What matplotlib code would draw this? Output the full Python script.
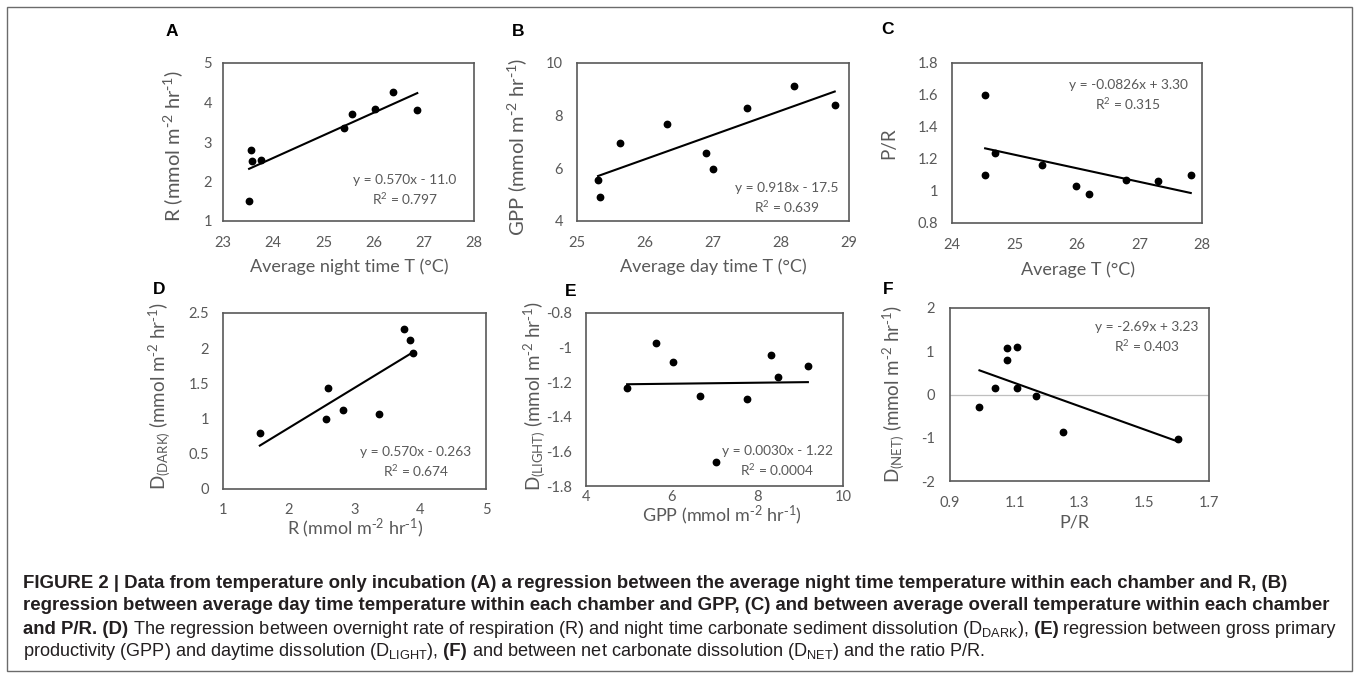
import numpy as np
import matplotlib
matplotlib.use("Agg")
import matplotlib.pyplot as plt
from matplotlib.ticker import FuncFormatter
from matplotlib.patches import Rectangle

W, H = 1357, 679

# ---- values ----
a_x = [23.56, 23.58, 23.76, 23.52, 25.42, 25.56, 26.03, 26.38, 26.87]
a_y = [2.79, 2.53, 2.54, 1.51, 3.35, 3.70, 3.84, 4.27, 3.80]

b_x = [25.31, 25.34, 25.63, 26.33, 26.89, 27.00, 27.50, 28.19, 28.79]
b_y = [5.56, 4.90, 6.96, 7.70, 6.59, 5.99, 8.28, 9.14, 8.42]

c_x = [24.53, 24.53, 24.68, 25.44, 25.99, 26.19, 26.78, 27.30, 27.82]
c_y = [1.60, 1.10, 1.24, 1.16, 1.03, 0.98, 1.07, 1.06, 1.10]

d_x = [1.56, 2.56, 2.60, 2.82, 3.38, 3.75, 3.84, 3.89]
d_y = [0.80, 0.99, 1.44, 1.12, 1.06, 2.27, 2.11, 1.93]

e_x = [4.96, 5.63, 6.03, 6.66, 7.03, 7.75, 8.32, 8.48, 9.18]
e_y = [-1.231, -0.976, -1.082, -1.282, -1.663, -1.297, -1.044, -1.171, -1.104]

f_x = [0.991, 1.039, 1.077, 1.076, 1.108, 1.106, 1.165, 1.249, 1.604]
f_y = [-0.30, 0.14, 0.80, 1.07, 1.09, 0.14, -0.03, -0.87, -1.03]

a_xticks = [23, 24, 25, 26, 27, 28]
a_yticks = [1, 2, 3, 4, 5]
b_xticks = [25, 26, 27, 28, 29]
b_yticks = [4, 6, 8, 10]
c_xticks = [24, 25, 26, 27, 28]
c_yticks = [0.8, 1.0, 1.2, 1.4, 1.6, 1.8]
d_xticks = [1, 2, 3, 4, 5]
d_yticks = [0, 0.5, 1.0, 1.5, 2.0, 2.5]
e_xticks = [4, 6, 8, 10]
e_yticks = [-1.8, -1.6, -1.4, -1.2, -1.0, -0.8]
f_xticks = [0.9, 1.1, 1.3, 1.5, 1.7]
f_yticks = [-2, -1, 0, 1, 2]

eq_text = ["y = 0.570x - 11.0", "y = 0.918x - 17.5", "y = -0.0826x + 3.30",
           "y = 0.570x - 0.263", "y = 0.0030x - 1.22", "y = -2.69x + 3.23"]
r2_text = ["R$^2$ = 0.797", "R$^2$ = 0.639", "R$^2$ = 0.315",
           "R$^2$ = 0.674", "R$^2$ = 0.0004", "R$^2$ = 0.403"]

UNITS = r"(mmol m$^{\text{-}2}$ hr$^{\text{-}1}$)"

plt.rcParams["mathtext.default"] = "regular"
plt.rcParams["axes.unicode_minus"] = False

GRAY = "#595959"
FONT = "Lato"

fig = plt.figure(figsize=(W / 100, H / 100), dpi=100)


def fx(px):
    return px / W


def fy(py):
    return 1 - py / H


# panel layout in pixels: box (left, top, right, bottom), letter, ylabel, xlabel, equation, tick pads
panels = [
    dict(x=a_x, y=a_y, xt=a_xticks, yt=a_yticks, box=(223, 63, 474, 221),
         letter=("A", 172, 32), ylab=("R " + UNITS, 173, 146, 14.5),
         xlab=("Average night time T (°C)", 349, 267), eq=(405, 180), xpad=11, ypad=8),
    dict(x=b_x, y=b_y, xt=b_xticks, yt=b_yticks, box=(577, 63, 849, 221),
         letter=("B", 518, 32), ylab=("GPP " + UNITS, 517, 147, 14.5),
         xlab=("Average day time T (°C)", 713, 267), eq=(787, 188), xpad=11, ypad=10),
    dict(x=c_x, y=c_y, xt=c_xticks, yt=c_yticks, box=(952, 63, 1202, 223),
         letter=("C", 888, 30), ylab=("P/R", 889, 143, 13.5),
         xlab=("Average T (°C)", 1078, 270), eq=(1128, 85), xpad=11, ypad=10),
    dict(x=d_x, y=d_y, xt=d_xticks, yt=d_yticks, box=(223, 313, 486, 489),
         letter=("D", 159, 289), ylab=("D$_{(DARK)}$ " + UNITS, 160, 396, 13.5),
         xlab=("R " + UNITS, 355, 528), eq=(416, 452), xpad=10, ypad=10),
    dict(x=e_x, y=e_y, xt=e_xticks, yt=e_yticks, box=(586, 313, 843, 486),
         letter=("E", 571, 291), ylab=("D$_{(LIGHT)}$ " + UNITS, 535, 396, 13.5),
         xlab=("GPP " + UNITS, 722, 515), eq=(777, 451), xpad=3, ypad=10),
    dict(x=f_x, y=f_y, xt=f_xticks, yt=f_yticks, box=(950, 308, 1209, 481),
         letter=("F", 888, 289), ylab=("D$_{(NET)}$ " + UNITS, 894, 394, 13.5),
         xlab=("P/R", 1074, 523), eq=(1147, 327), xpad=11, ypad=11),
]

fmt = FuncFormatter(lambda v, pos: "{:g}".format(round(v, 6)))

for i, p in enumerate(panels):
    l, t, r, b = p["box"]
    ax = fig.add_axes([fx(l), fy(b), fx(r) - fx(l), fy(t) - fy(b)])
    xs = np.array(p["x"])
    ys = np.array(p["y"])
    slope, icpt = np.polyfit(xs, ys, 1)
    xl = np.array([xs.min(), xs.max()])
    if i == 5:
        ax.axhline(0, color="#bfbfbf", lw=0.9, zorder=1)
    ax.plot(xl, slope * xl + icpt, color="black", lw=1.5, zorder=2)
    ax.plot(xs, ys, "o", color="black", markersize=4.6, zorder=3)
    ax.set_xlim(p["xt"][0], p["xt"][-1])
    ax.set_ylim(p["yt"][0], p["yt"][-1])
    ax.set_xticks(p["xt"])
    ax.set_yticks(p["yt"])
    ax.xaxis.set_major_formatter(fmt)
    ax.yaxis.set_major_formatter(fmt)
    ax.tick_params(length=0, labelsize=10.5, labelcolor=GRAY)
    ax.tick_params(axis="x", pad=p["xpad"])
    ax.tick_params(axis="y", pad=p["ypad"])
    for lab in ax.get_xticklabels() + ax.get_yticklabels():
        lab.set_fontfamily(FONT)
    for sp in ax.spines.values():
        sp.set_color(GRAY)
        sp.set_linewidth(1.2)

    let, lx, ly = p["letter"]
    fig.text(fx(lx), fy(ly), let, fontsize=12.5, fontweight="bold",
             family="Liberation Sans", ha="center", va="center")
    ytxt, yx, yy, ysz = p["ylab"]
    fig.text(fx(yx), fy(yy), ytxt, rotation=90, fontsize=ysz, color=GRAY,
             family=FONT, ha="center", va="center")
    xtxt, xx, xy = p["xlab"]
    fig.text(fx(xx), fy(xy), xtxt, fontsize=13, color=GRAY,
             family=FONT, ha="center", va="center")
    ex, ey = p["eq"]
    fig.text(fx(ex), fy(ey), eq_text[i], fontsize=9.9, color=GRAY,
             family=FONT, ha="center", va="center")
    fig.text(fx(ex), fy(ey + 19), r2_text[i], fontsize=9.9, color=GRAY,
             family=FONT, ha="center", va="center")

# frame around the whole figure
fig.patches.append(Rectangle((fx(7), fy(671)), fx(1352) - fx(7), fy(7) - fy(671),
                             transform=fig.transFigure, fill=False,
                             edgecolor="#6b6b6b", lw=1.0))

# caption, bold and normal runs (leading spaces so the measured widths keep them)
caption = [
    [("FIGURE 2 | Data from temperature only incubation (A) a regression between the average night time temperature within each chamber and R, (B)", "bold")],
    [("regression between average day time temperature within each chamber and GPP, (C) and between average overall temperature within each chamber", "bold")],
    [("and P/R. (D)", "bold"),
     (" The regression between overnight rate of respiration (R) and night time carbonate sediment dissolution (D$_{DARK}$),", "normal"),
     (" (E)", "bold"), (" regression between gross primary", "normal")],
    [("productivity (GPP) and daytime dissolution (D$_{LIGHT}$),", "normal"),
     (" (F)", "bold"), (" and between net carbonate dissolution (D$_{NET}$) and the ratio P/R.", "normal")],
]
cap_y = [584, 606, 629, 652]
cap_size = {"bold": 13.4, "normal": 13.1}

renderer = fig.canvas.get_renderer()
for line, ly in zip(caption, cap_y):
    x0 = 23
    for txt, wt in line:
        t = fig.text(fx(x0), fy(ly), txt, fontsize=cap_size[wt], fontweight=wt,
                     family="Liberation Sans", color="#231f20", ha="left", va="center")
        bb = t.get_window_extent(renderer=renderer)
        x0 += bb.width

fig.savefig("out.png", dpi=100)
